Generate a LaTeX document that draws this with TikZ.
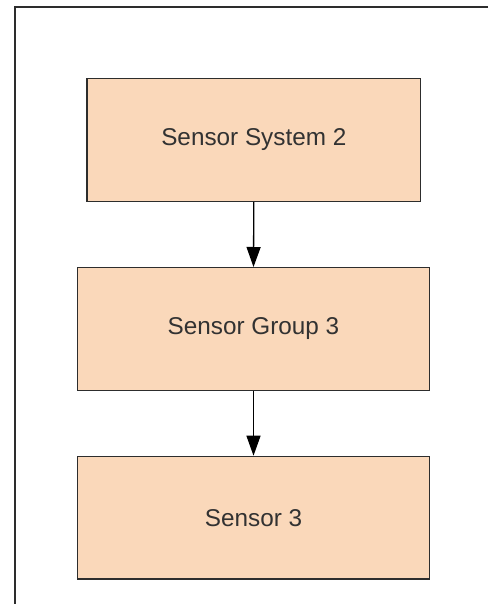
\documentclass[tikz,border=0pt]{standalone}
\usepackage{fontspec}
\setmainfont{Liberation Sans}
\usetikzlibrary{arrows.meta}
\definecolor{peach}{RGB}{250,216,186}
\definecolor{edge}{RGB}{45,45,45}
\definecolor{txt}{RGB}{50,50,50}
\begin{document}
\begin{tikzpicture}[x=1pt,y=-1pt,
  blockbox/.style={draw=edge, line width=1.4pt, fill=peach, minimum height=122.6pt,
    inner sep=0pt, text=txt, font=\fontsize{24.3}{29}\selectfont},
  conn/.style={draw=black, line width=1.3pt, -{Triangle[length=20pt,width=14pt]}}]
\useasboundingbox (0,0) rectangle (488,604);
\fill[white] (0,0) rectangle (488,604);
\coordinate (fr) at (488,7);
\coordinate (fc) at (15,7);
\coordinate (fb) at (15,604);
\draw[edge, line width=1.3pt] (fr) -- (fc) -- (fb);
\node[blockbox, minimum width=333.7pt] (a) at (253.8,140) {Sensor System 2};
\node[blockbox, minimum width=351.6pt] (b) at (253.5,329) {Sensor Group 3};
\node[blockbox, minimum width=351.6pt] (c) at (253.5,517.7) {Sensor 3};
\draw[conn] (a.south) -- (b.north);
\draw[conn] (b.south) -- (c.north);
\end{tikzpicture}
\end{document}
